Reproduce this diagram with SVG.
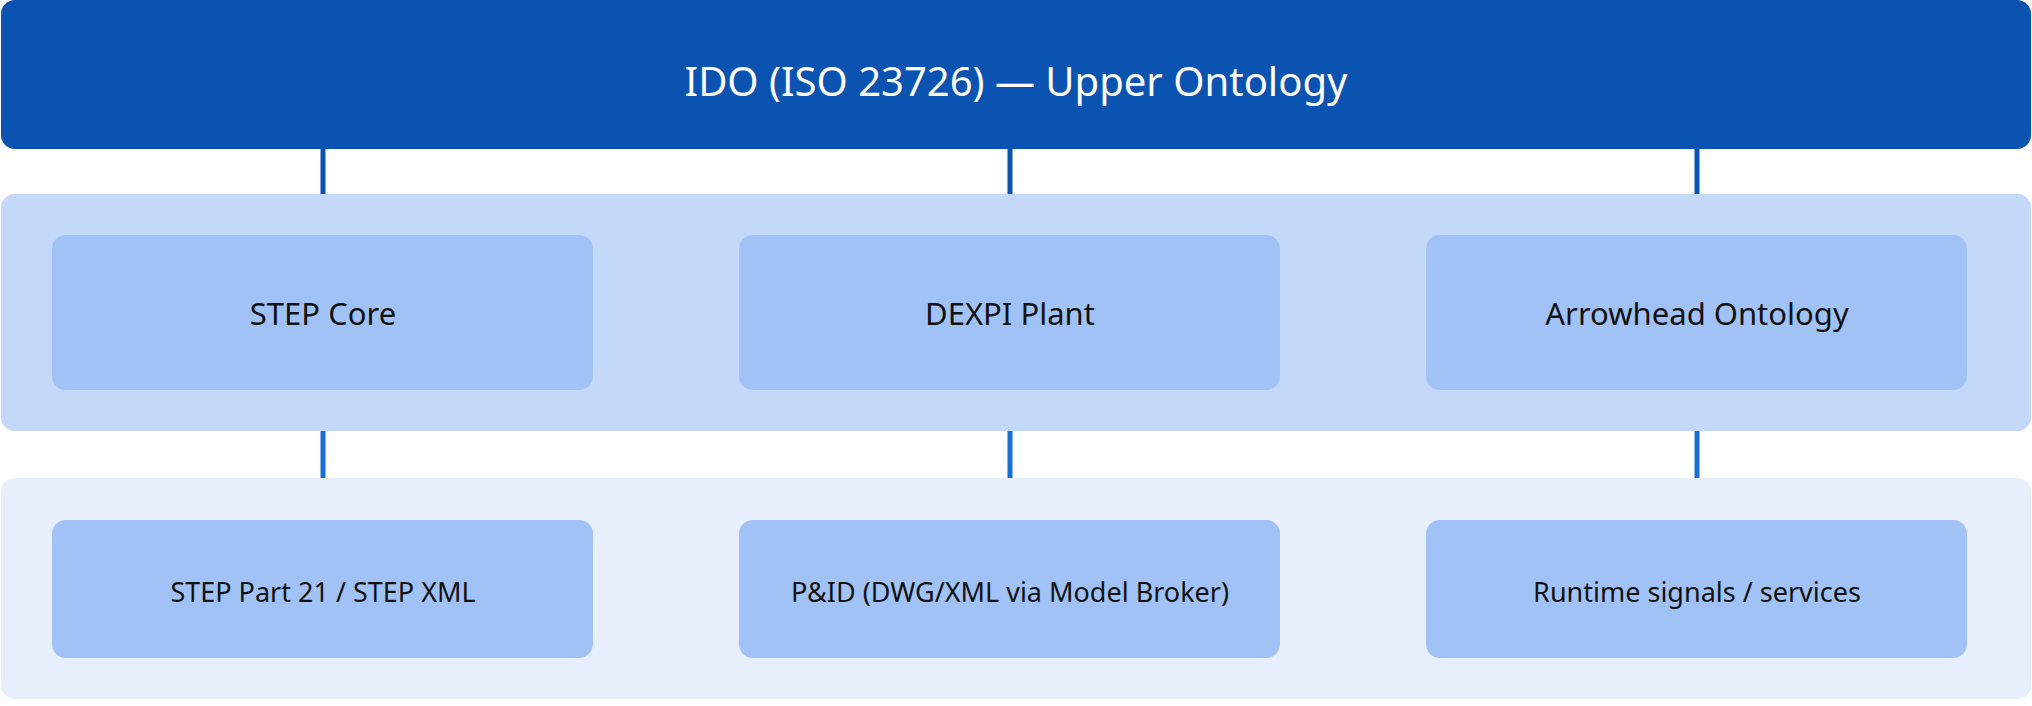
<svg xmlns="http://www.w3.org/2000/svg" width="2032" height="706" viewBox="0 0 2032 706">
<style>
text{font-family:"Noto Sans","Open Sans","Liberation Sans",sans-serif;text-anchor:middle;dominant-baseline:central}
.box{fill:#A0C2F7}
.t{font-size:31px;fill:#111}
.s{font-size:27px;fill:#111}
</style>
<rect width="2032" height="706" fill="#fff"/>
<g id="connectors">
<g stroke="#0B53B1" stroke-width="5">
<line x1="323" y1="148" x2="323" y2="196"/><line x1="1010" y1="148" x2="1010" y2="196"/><line x1="1697" y1="148" x2="1697" y2="196"/>
</g>
<g stroke="#1A6FD6" stroke-width="5">
<line x1="323" y1="430" x2="323" y2="480"/><line x1="1010" y1="430" x2="1010" y2="480"/><line x1="1697" y1="430" x2="1697" y2="480"/>
</g>
</g>
<g id="ido"><rect x="1" y="0" width="2030" height="149" rx="14" fill="#0B53B1"/>
<text x="1016" y="80" font-size="40" fill="#fff">IDO (ISO 23726) — Upper Ontology</text></g>
<g id="layer2"><rect x="1" y="194" width="2030" height="237" rx="14" fill="#C4D8F9"/></g>
<g id="layer3"><rect x="1" y="478" width="2030" height="221" rx="14" fill="#E8EFFC"/></g>
<g id="step-core"><rect class="box" x="52" y="235" width="541" height="155" rx="14"/><text class="t" x="323" y="313">STEP Core</text></g>
<g id="dexpi-plant"><rect class="box" x="739" y="235" width="541" height="155" rx="14"/><text class="t" x="1010" y="313">DEXPI Plant</text></g>
<g id="arrowhead"><rect class="box" x="1426" y="235" width="541" height="155" rx="14"/><text class="t" x="1697" y="313">Arrowhead Ontology</text></g>
<g id="step-files"><rect class="box" x="52" y="520" width="541" height="138" rx="14"/><text class="s" x="323" y="591">STEP Part 21 / STEP XML</text></g>
<g id="pid"><rect class="box" x="739" y="520" width="541" height="138" rx="14"/><text class="s" x="1010" y="591">P&amp;ID (DWG/XML via Model Broker)</text></g>
<g id="runtime"><rect class="box" x="1426" y="520" width="541" height="138" rx="14"/><text class="s" x="1697" y="591">Runtime signals / services</text></g>
</svg>
